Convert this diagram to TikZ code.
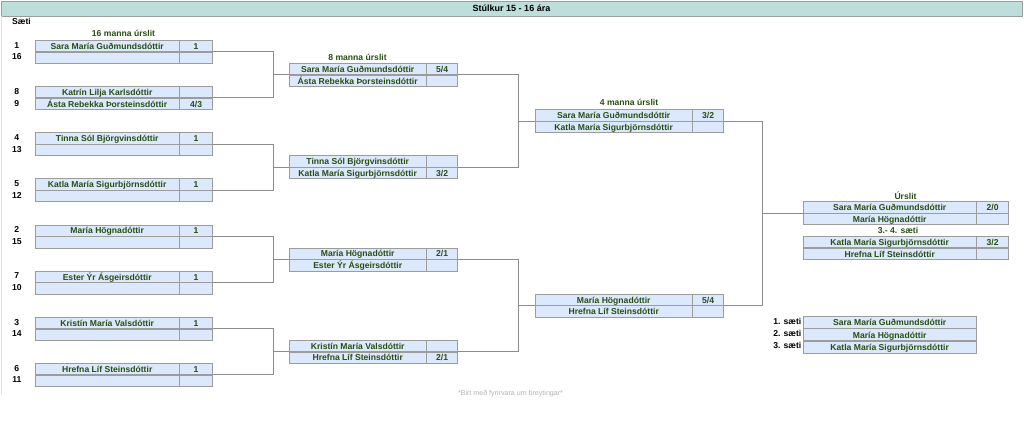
\documentclass[tikz,border=0pt]{standalone}
\usepackage{fontspec}
\setmainfont{Liberation Sans}
\usepackage{xcolor}
\usepackage{tikz}
\usetikzlibrary{positioning}

\definecolor{cellblue}{HTML}{DCE8FB}
\definecolor{namegreen}{HTML}{274E13}
\definecolor{barteal}{HTML}{BDDFDB}
\definecolor{gridgray}{HTML}{9C9C9C}
\definecolor{linkgray}{HTML}{8C8C8C}

\begin{document}
\begin{tikzpicture}[x=1pt, y=-1pt,
    namecell/.style={rectangle, draw=gridgray, fill=cellblue, minimum height=11.3pt, inner sep=0pt, text height=7.6pt, text depth=0.6pt, font=\bfseries\fontsize{8.6}{9}\selectfont, text=namegreen},
    name16/.style={namecell, minimum width=144pt},
    score16/.style={namecell, minimum width=33pt},
    name8/.style={namecell, minimum width=137pt},
    score8/.style={namecell, minimum width=31pt},
    name4/.style={namecell, minimum width=157pt},
    score4/.style={namecell, minimum width=31pt},
    namefin/.style={namecell, minimum width=173pt},
    scorefin/.style={namecell, minimum width=32pt},
    placecell/.style={namecell, minimum width=173pt, minimum height=12pt},
    seed/.style={font=\bfseries\fontsize{8.6}{9}\selectfont, inner sep=0pt, text height=6.4pt, text depth=1.6pt, minimum width=14pt},
    roundlbl/.style={font=\bfseries\fontsize{8.6}{9}\selectfont, text=namegreen, inner sep=0pt},
    link/.style={draw=linkgray, line width=0.8pt}
]
\useasboundingbox (0,0) rectangle (1024,431);

% header
\node[rectangle, draw=gridgray, fill=barteal, minimum width=1021pt, minimum height=15pt, inner sep=0pt, font=\bfseries\fontsize{9}{10}\selectfont] (title) at (511.5,8.5) {Stúlkur 15 - 16 ára};
\draw[draw=black!12, line width=0.6pt] (1.5,16) -- (1.5,395);
\node[seed, anchor=west] (saeti) at (12,22.5) {Sæti};

% 16 manna urslit
\node[roundlbl] (lbl16) at (123.5,33.5) {16 manna úrslit};
\node[name16, anchor=north west] (s1) at (35,40) {Sara María Guðmundsdóttir};
\node[score16, right=0pt of s1] (s1x) {1};
\node[name16, below=0pt of s1] (s2) {};
\node[score16, right=0pt of s2] (s2x) {};
\node[name16, anchor=north west] (s3) at (35,86.14) {Katrín Lilja Karlsdóttir};
\node[score16, right=0pt of s3] (s3x) {};
\node[name16, below=0pt of s3] (s4) {Ásta Rebekka Þorsteinsdóttir};
\node[score16, right=0pt of s4] (s4x) {4/3};
\node[name16, anchor=north west] (s5) at (35,132.28) {Tinna Sól Björgvinsdóttir};
\node[score16, right=0pt of s5] (s5x) {1};
\node[name16, below=0pt of s5] (s6) {};
\node[score16, right=0pt of s6] (s6x) {};
\node[name16, anchor=north west] (s7) at (35,178.42) {Katla María Sigurbjörnsdóttir};
\node[score16, right=0pt of s7] (s7x) {1};
\node[name16, below=0pt of s7] (s8) {};
\node[score16, right=0pt of s8] (s8x) {};
\node[name16, anchor=north west] (s9) at (35,224.56) {María Högnadóttir};
\node[score16, right=0pt of s9] (s9x) {1};
\node[name16, below=0pt of s9] (s10) {};
\node[score16, right=0pt of s10] (s10x) {};
\node[name16, anchor=north west] (s11) at (35,270.7) {Ester Ýr Ásgeirsdóttir};
\node[score16, right=0pt of s11] (s11x) {1};
\node[name16, below=0pt of s11] (s12) {};
\node[score16, right=0pt of s12] (s12x) {};
\node[name16, anchor=north west] (s13) at (35,316.84) {Kristín María Valsdóttir};
\node[score16, right=0pt of s13] (s13x) {1};
\node[name16, below=0pt of s13] (s14) {};
\node[score16, right=0pt of s14] (s14x) {};
\node[name16, anchor=north west] (s15) at (35,362.98) {Hrefna Líf Steinsdóttir};
\node[score16, right=0pt of s15] (s15x) {1};
\node[name16, below=0pt of s15] (s16) {};
\node[score16, right=0pt of s16] (s16x) {};

\foreach \s [count=\i] in {1,16,8,9,4,13,5,12,2,15,7,10,3,14,6,11}
    \node[seed, left=11pt of s\i] (seed\i) {\s};

% 8 manna urslit
\node[roundlbl] (lbl8) at (357.5,57) {8 manna úrslit};
\node[name8, anchor=north west] (e1) at (289,63.07) {Sara María Guðmundsdóttir};
\node[score8, right=0pt of e1] (e1x) {5/4};
\node[name8, below=0pt of e1] (e2) {Ásta Rebekka Þorsteinsdóttir};
\node[score8, right=0pt of e2] (e2x) {};
\node[name8, anchor=north west] (e3) at (289,155.35) {Tinna Sól Björgvinsdóttir};
\node[score8, right=0pt of e3] (e3x) {};
\node[name8, below=0pt of e3] (e4) {Katla María Sigurbjörnsdóttir};
\node[score8, right=0pt of e4] (e4x) {3/2};
\node[name8, anchor=north west] (e5) at (289,247.63) {María Högnadóttir};
\node[score8, right=0pt of e5] (e5x) {2/1};
\node[name8, below=0pt of e5] (e6) {Ester Ýr Ásgeirsdóttir};
\node[score8, right=0pt of e6] (e6x) {};
\node[name8, anchor=north west] (e7) at (289,339.91) {Kristín María Valsdóttir};
\node[score8, right=0pt of e7] (e7x) {};
\node[name8, below=0pt of e7] (e8) {Hrefna Líf Steinsdóttir};
\node[score8, right=0pt of e8] (e8x) {2/1};

% 4 manna urslit
\node[roundlbl] (lbl4) at (629,102.5) {4 manna úrslit};
\node[name4, anchor=north west] (f1) at (535,109.21) {Sara María Guðmundsdóttir};
\node[score4, right=0pt of f1] (f1x) {3/2};
\node[name4, below=0pt of f1] (f2) {Katla María Sigurbjörnsdóttir};
\node[score4, right=0pt of f2] (f2x) {};
\node[name4, anchor=north west] (f3) at (535,293.77) {María Högnadóttir};
\node[score4, right=0pt of f3] (f3x) {5/4};
\node[name4, below=0pt of f3] (f4) {Hrefna Líf Steinsdóttir};
\node[score4, right=0pt of f4] (f4x) {};

% urslit og 3.-4. saeti
\node[roundlbl] (lblfin) at (905.5,196) {Úrslit};
\node[namefin, anchor=north west] (u1) at (803,201.49) {Sara María Guðmundsdóttir};
\node[scorefin, right=0pt of u1] (u1x) {2/0};
\node[namefin, below=0pt of u1] (u2) {María Högnadóttir};
\node[scorefin, right=0pt of u2] (u2x) {};
\node[roundlbl] (lblbronze) at (898,230.5) {3.- 4. sæti};
\node[namefin, anchor=north west] (t1) at (803,236) {Katla María Sigurbjörnsdóttir};
\node[scorefin, right=0pt of t1] (t1x) {3/2};
\node[namefin, below=0pt of t1] (t2) {Hrefna Líf Steinsdóttir};
\node[scorefin, right=0pt of t2] (t2x) {};

% lokastada
\node[placecell, anchor=north west] (p1) at (803,316) {Sara María Guðmundsdóttir};
\node[placecell, below=0pt of p1] (p2) {María Högnadóttir};
\node[placecell, below=0pt of p2] (p3) {Katla María Sigurbjörnsdóttir};
\node[seed, anchor=east] (pl1) at (801.5,322) {1. sæti};
\node[seed, anchor=east] (pl2) at (801.5,334) {2. sæti};
\node[seed, anchor=east] (pl3) at (801.5,346) {3. sæti};

% tengingar
\draw[link] (s1x.south east) -- ++(61,0) coordinate (j1) |- (s3x.south east);
\draw[link] (j1 |- e1.south west) -- (e1.south west);
\draw[link] (s5x.south east) -- ++(61,0) coordinate (j2) |- (s7x.south east);
\draw[link] (j2 |- e3.south west) -- (e3.south west);
\draw[link] (s9x.south east) -- ++(61,0) coordinate (j3) |- (s11x.south east);
\draw[link] (j3 |- e5.south west) -- (e5.south west);
\draw[link] (s13x.south east) -- ++(61,0) coordinate (j4) |- (s15x.south east);
\draw[link] (j4 |- e7.south west) -- (e7.south west);
\draw[link] (e1x.south east) -- ++(61,0) coordinate (j5) |- (e3x.south east);
\draw[link] (j5 |- f1.south west) -- (f1.south west);
\draw[link] (e5x.south east) -- ++(61,0) coordinate (j6) |- (e7x.south east);
\draw[link] (j6 |- f3.south west) -- (f3.south west);
\draw[link] (f1x.south east) -- ++(39,0) coordinate (j7) |- (f3x.south east);
\draw[link] (j7 |- u1.south west) -- (u1.south west);

\node[text=black!30, font=\fontsize{7.1}{8}\selectfont, inner sep=0pt] (note) at (510.5,393.5) {*Birt með fyrirvara um breytingar*};
\end{tikzpicture}
\end{document}
